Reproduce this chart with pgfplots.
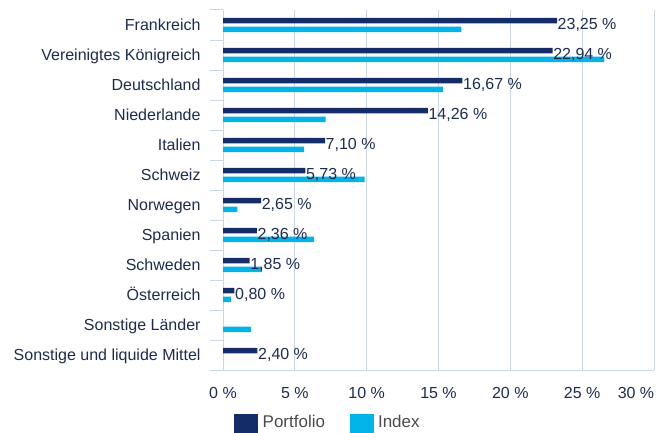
\documentclass[border=0pt]{standalone}
\usepackage{fontspec}
\setmainfont{Liberation Sans}
\usepackage{pgfplots}
\pgfplotsset{compat=1.18}
\definecolor{navy}{HTML}{142D69}
\definecolor{cyanb}{HTML}{00B4EA}
\definecolor{gridc}{HTML}{CAD6E6}
\definecolor{txt}{HTML}{1C2B50}
\definecolor{legtxt}{HTML}{4A4A4A}
\newcommand{\fs}{\fontsize{16pt}{19pt}\selectfont}
\newcommand{\fl}{\fontsize{17pt}{20pt}\selectfont}
\begin{document}
\begin{tikzpicture}
\useasboundingbox (0pt,0pt) rectangle (666pt,432pt);
\begin{axis}[
  at={(223pt,62pt)}, anchor=south west,
  scale only axis, width=431pt, height=360pt,
  xmin=0, xmax=30, ymin=-0.5, ymax=11.5,
  axis x line*=bottom, axis y line*=left,
  axis line style={draw=gridc, line width=1pt},
  xtick={0,5,10,15,20,25}, extra x ticks={30},
  extra x tick style={xticklabel style={xshift=-18pt}, grid=major},
  xmajorgrids, major grid style={draw=gridc, line width=1pt},
  xtick style={draw=none},
  /pgf/number format/assume math mode=true,
  xticklabel={\pgfmathprintnumber{\tick}~\%},
  xticklabel style={inner sep=0pt, yshift=-13pt, font=\fs, text=txt},
  ytick={0,...,11},
  yticklabels={Sonstige und liquide Mittel, Sonstige Länder, Österreich, Schweden, Spanien, Norwegen, Schweiz, Italien, Niederlande, Deutschland, Vereinigtes Königreich, Frankreich},
  yticklabel style={inner sep=0pt, xshift=-18pt, font=\fs, text=txt, text height=11.5pt, text depth=0pt},
  major y tick style={draw=none},
  minor ytick={-0.5,0.5,...,11.5},
  minor tick length=12.5pt,
  minor y tick style={draw=gridc, line width=1pt},
  tick align=outside,
  xbar, bar width=5.5pt,
  legend style={at={(axis description cs:0.0255,-0.122)}, anchor=north west, draw=none, fill=none, inner sep=0pt, font=\fl, text=legtxt, legend columns=2,
    nodes={inner xsep=4.5pt, inner ysep=0pt, text depth=0pt},
    /tikz/every even column/.append style={column sep=20pt}},
  legend image code/.code={\fill (0pt,-12pt) rectangle (24pt,7pt);},
  clip=false,
]
\addplot[fill=navy, draw=none, bar shift=4.4pt] coordinates {
(23.25,11) (22.94,10) (16.67,9) (14.26,8) (7.10,7) (5.73,6) (2.65,5) (2.36,4) (1.85,3) (0.80,2) (2.40,0)};
\addlegendentry{Portfolio}
\addplot[fill=cyanb, draw=none, bar shift=-4.4pt] coordinates {
(16.6,11) (26.55,10) (15.3,9) (7.15,8) (5.65,7) (9.85,6) (1.0,5) (6.35,4) (2.7,3) (0.55,2) (1.95,1)};
\addlegendentry{Index}
\addplot[draw=none, fill=none, bar shift=4.4pt, forget plot,
  nodes near coords={\pgfmathprintnumber[fixed,fixed zerofill,precision=2,use comma]{\pgfplotspointmeta}~\%},
  point meta=x,
  every node near coord/.append style={anchor=west, inner sep=0.5pt, font=\fs, text=txt, yshift=-4.5pt}] coordinates {
(23.25,11) (22.94,10) (16.67,9) (14.26,8) (7.10,7) (5.73,6) (2.65,5) (2.36,4) (1.85,3) (0.80,2) (2.40,0)};
\end{axis}
\end{tikzpicture}
\end{document}
